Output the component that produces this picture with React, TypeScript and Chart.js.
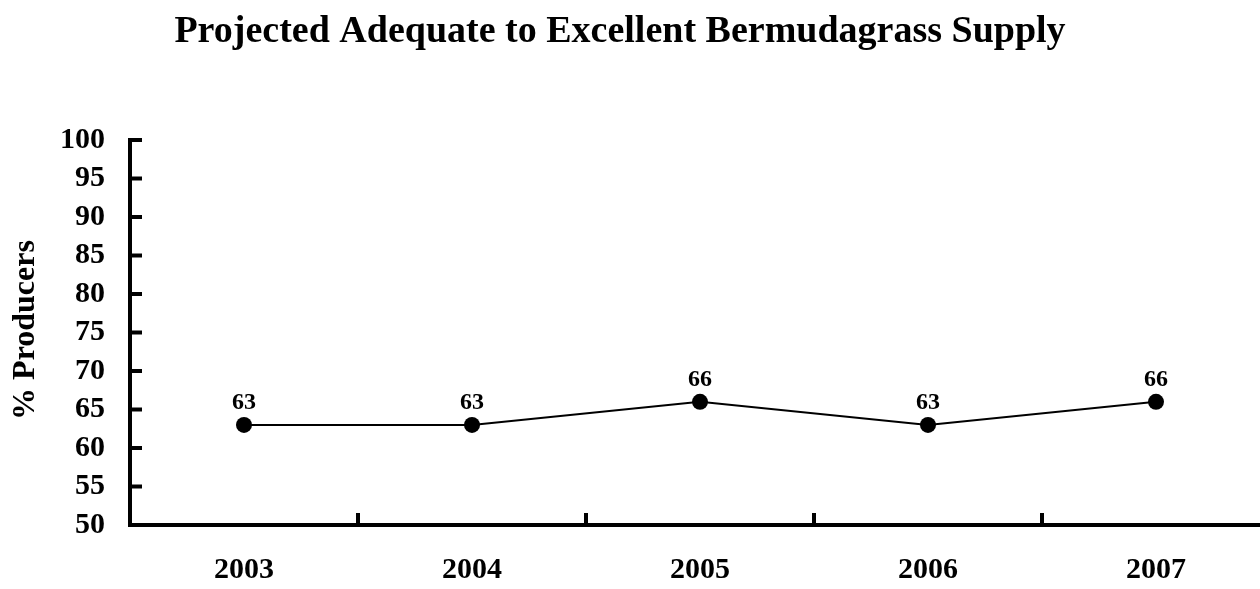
import React, { useEffect, useRef } from "react";
import { Chart, registerables } from "chart.js";

Chart.register(...registerables);

const categories = ["2003", "2004", "2005", "2006", "2007"];
const producerPercent = [63, 63, 66, 63, 66];
const yMin = 50;
const yMax = 100;
const yStep = 5;
const chartTitle = "Projected Adequate to Excellent Bermudagrass Supply";
const yAxisTitle = "% Producers";

const FONT = "'Liberation Serif', 'Times New Roman', serif";

const decorPlugin = {
  id: "decor",
  afterDraw(chart: any) {
    const { ctx, chartArea, scales } = chart;
    const x = scales.x;
    const y = scales.y;
    ctx.save();
    ctx.strokeStyle = "#000";
    ctx.lineWidth = 4;
    // y ticks (inward)
    for (const t of y.ticks) {
      const py = y.getPixelForValue(t.value);
      ctx.beginPath();
      ctx.moveTo(chartArea.left, py);
      ctx.lineTo(chartArea.left + 12, py);
      ctx.stroke();
    }
    // x ticks between categories (inward)
    for (let i = 0; i < categories.length - 1; i++) {
      const px = x.getPixelForValue(i + 0.5);
      ctx.beginPath();
      ctx.moveTo(px, chartArea.bottom);
      ctx.lineTo(px, chartArea.bottom - 12);
      ctx.stroke();
    }
    // data labels
    ctx.fillStyle = "#000";
    ctx.font = `bold 24px ${FONT}`;
    ctx.textAlign = "center";
    ctx.textBaseline = "alphabetic";
    const meta = chart.getDatasetMeta(0);
    meta.data.forEach((pt: any, i: number) => {
      ctx.fillText(String(producerPercent[i]), pt.x, pt.y - 16);
    });
    // title
    ctx.font = `bold 38px ${FONT}`;
    ctx.fillText(chartTitle, 620, 42);
    // y axis title
    ctx.save();
    ctx.translate(34, 330);
    ctx.rotate(-Math.PI / 2);
    ctx.font = `bold 32px ${FONT}`;
    ctx.textAlign = "center";
    ctx.textBaseline = "alphabetic";
    ctx.fillText(yAxisTitle, 0, 0);
    ctx.restore();
    ctx.restore();
  },
};

export default function App() {
  const ref = useRef<HTMLCanvasElement | null>(null);
  useEffect(() => {
    if (!ref.current) return;
    const chart = new Chart(ref.current, {
      type: "line",
      data: {
        labels: categories,
        datasets: [
          {
            data: producerPercent,
            borderColor: "#000",
            borderWidth: 2,
            backgroundColor: "#000",
            pointRadius: 8,
            pointBackgroundColor: "#000",
            pointBorderColor: "#000",
            pointBorderWidth: 0,
            tension: 0,
            fill: false,
          },
        ],
      },
      options: {
        animation: false,
        responsive: false,
        devicePixelRatio: 1,
        layout: { padding: { top: 140, left: 0, right: 0, bottom: 0 } },
        plugins: {
          legend: { display: false },
          title: { display: false },
          tooltip: { enabled: false },
        },
        scales: {
          x: {
            type: "category",
            offset: true,
            grid: { display: true, color: "rgba(0,0,0,0)", drawTicks: false, offset: true },
            border: { display: true, color: "#000", width: 4 },
            ticks: {
              color: "#000",
              padding: 27,
              maxRotation: 0,
              autoSkip: false,
              font: { family: FONT, size: 30, weight: "bold" },
            },
            afterFit(scale: any) {
              scale.height = 64;
            },
          },
          y: {
            min: yMin,
            max: yMax,
            grid: { display: true, color: "rgba(0,0,0,0)", drawTicks: false },
            border: { display: true, color: "#000", width: 4 },
            ticks: {
              stepSize: yStep,
              autoSkip: false,
              color: "#000",
              padding: 25,
              font: { family: FONT, size: 30, weight: "bold" },
            },
            afterFit(scale: any) {
              scale.width = 130;
            },
          },
        },
      },
      plugins: [decorPlugin],
    });
    return () => chart.destroy();
  }, []);
  return (
    <div
      style={{
        position: "absolute",
        left: 0,
        top: 0,
        width: 1260,
        height: 589,
        overflow: "hidden",
        background: "#fff",
      }}
    >
      <canvas ref={ref} width={1278} height={589} style={{ display: "block" }} />
    </div>
  );
}
